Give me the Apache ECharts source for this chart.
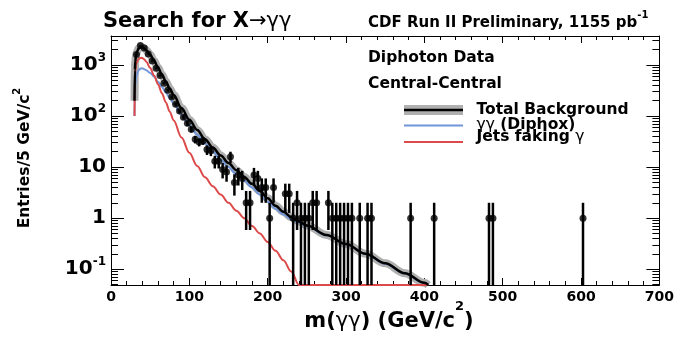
<!DOCTYPE html>
<html>
<head>
<meta charset="utf-8">
<title>Search for X→γγ</title>
<script src="https://cdn.jsdelivr.net/npm/echarts@6.0.0/dist/echarts.min.js"></script>
<style>
  html, body { margin: 0; padding: 0; background: #fff; }
  #chart { width: 677px; height: 338px; }
</style>
</head>
<body>
<div id="chart"></div>
<script>
// Diphoton data, central-central, 5 GeV/c^2 bins: bin centre and entries (empty bins left out)
const massBins = [32.5, 37.5, 42.5, 47.5, 52.5, 57.5, 62.5, 67.5, 72.5, 77.5,
  82.5, 87.5, 92.5, 97.5, 102.5, 107.5, 112.5, 117.5, 122.5, 127.5,
  132.5, 137.5, 142.5, 147.5, 152.5, 157.5, 162.5, 167.5, 172.5, 177.5,
  182.5, 187.5, 192.5, 197.5, 202.5, 207.5, 222.5, 227.5, 232.5, 237.5,
  242.5, 247.5, 252.5, 257.5, 262.5, 277.5, 282.5, 287.5, 292.5, 297.5,
  302.5, 307.5, 317.5, 327.5, 332.5, 382.5, 412.5, 482.5, 487.5, 602.5];
const entries = [1600, 2400, 2150, 1650, 1200, 860, 620, 440, 320, 235,
  170, 125, 95, 72, 55, 35, 31, 33, 22, 21,
  13, 13, 9, 8, 16, 5, 7, 6, 2, 2,
  7, 6, 4, 4, 1, 4, 3, 3, 1, 2,
  1, 1, 1, 2, 2, 2, 1, 1, 1, 1,
  1, 1, 1, 1, 1, 1, 1, 1, 1, 1];

// Background model sampled along m(γγ) [GeV/c^2]
const curveMass = [30, 30.5, 31, 32, 33, 35, 37, 39, 41, 43,
  45, 50, 55, 60, 65, 70, 75, 80, 90, 100,
  110, 120, 130, 140, 150, 160, 170, 180, 190, 200,
  210, 220, 230, 240, 250, 275, 300, 325, 350, 375,
  400, 405];
const totalBkg = [200, 800, 1170, 1550, 1800, 2080, 2210, 2240, 2190, 2080,
  1950, 1580, 1210, 890, 650, 475, 347, 257, 143, 85,
  53.5, 35.3, 24.2, 16.9, 12, 8.7, 6.4, 4.7, 3.4, 2.45,
  1.75, 1.33, 1.05, 0.86, 0.72, 0.47, 0.31, 0.2, 0.13, 0.083,
  0.054, 0.049];
const diphoxBkg = [100, 300, 420, 550, 650, 780, 840, 860, 850, 820,
  790, 700, 590, 470, 370, 290, 225, 175, 105, 66,
  43, 29, 20, 14, 10, 7.3, 5.4, 4.0, 2.9, 2.1,
  1.52, 1.18, 0.96, 0.81, 0.69, 0.46, 0.305, 0.197, 0.128, 0.082,
  0.053, 0.048];
const jetsBkg = [100, 500, 750, 1000, 1150, 1300, 1370, 1380, 1340, 1260,
  1160, 880, 620, 420, 280, 185, 122, 82, 38, 19,
  10.5, 6.3, 4.2, 2.9, 2.0, 1.4, 1.0, 0.7, 0.5, 0.34,
  0.23, 0.15, 0.09, 0.049, 0.03, 0.012, 0.005, 0.002, 0.001, 0.0005,
  0.0002, 0.0002];

// Axis ticks and labels
const xMajorStep = 100, xMinorStep = 20;
const yTickDecades = [-1, 0, 1, 2, 3];
const yTickLabels = ['10^-1', '1', '10', '10^2', '10^3'];

// ---------------------------------------------------------------------
const FONT = 'DejaVu Sans';
const BLACK = '#000';
const GREY = '#b0b0b0';
const BLUE = '#7096da';
const RED = '#dd4a4a';
const toLog = v => Math.log10(v);
const yFloor = 0.049, yCeil = 3700;
const yLo = toLog(yFloor), yHi = toLog(yCeil);
// values under the frame are drawn along its lower edge
const atFloor = v => Math.max(toLog(Math.max(v, 1e-9)), yLo);

const minorLogTicks = [];
for (let d = -2; d <= 3; d++) {
  for (let k = 2; k <= 9; k++) {
    const t = d + Math.log10(k);
    if (t > yLo && t < yHi) minorLogTicks.push(t);
  }
}
const yLabelOf = {};
yTickDecades.forEach((d, i) => { yLabelOf[d] = yTickLabels[i]; });
function richPower(s) {
  const parts = s.split('^');
  return parts[1] ? `{b|${parts[0]}}{s|${parts[1]}}` : `{b|${parts[0]}}`;
}

const noAxis = {
  splitLine: { show: false },
  axisLabel: { show: false },
  axisLine: { show: false, onZero: false },
  axisTick: { show: false }
};
const frameLine = { show: true, onZero: false, lineStyle: { color: BLACK, width: 1 } };
const tick = (len, extra) => Object.assign({ show: true, inside: true, length: len, lineStyle: { color: BLACK, width: 1 } }, extra || {});

const xBase = Object.assign({ type: 'value', min: 0, max: 700 }, noAxis);
const yBase = Object.assign({ type: 'value', min: yLo, max: yHi }, noAxis);

const xAxis = [
  Object.assign({}, xBase, {
    position: 'bottom', interval: xMajorStep,
    axisLine: frameLine, axisTick: tick(7),
    axisLabel: { show: true, fontFamily: FONT, fontWeight: 'bold', fontSize: 14, color: BLACK, margin: 5, showMaxLabel: true, showMinLabel: true }
  }),
  Object.assign({}, xBase, { position: 'bottom', interval: xMinorStep, axisTick: tick(4) }),
  Object.assign({}, xBase, { position: 'top', interval: xMajorStep, axisLine: frameLine, axisTick: tick(7) }),
  Object.assign({}, xBase, { position: 'top', interval: xMinorStep, axisTick: tick(4) })
];

const yAxis = [
  Object.assign({}, yBase, {
    position: 'left', axisLine: frameLine,
    axisTick: tick(13, { customValues: yTickDecades }),
    axisLabel: {
      show: true, customValues: yTickDecades, margin: 5, fontSize: 20,
      formatter: v => richPower(yLabelOf[Math.round(v)]),
      rich: {
        b: { fontFamily: FONT, fontWeight: 'bold', fontSize: 20, color: BLACK, lineHeight: 26 },
        s: { fontFamily: FONT, fontWeight: 'bold', fontSize: 12, color: BLACK, lineHeight: 9, verticalAlign: 'top' }
      }
    }
  }),
  Object.assign({}, yBase, { position: 'left', axisTick: tick(7, { customValues: minorLogTicks }) }),
  Object.assign({}, yBase, { position: 'right', axisLine: frameLine, axisTick: tick(13, { customValues: yTickDecades }) }),
  Object.assign({}, yBase, { position: 'right', axisTick: tick(7, { customValues: minorLogTicks }) })
];

const curve = arr => curveMass.map((m, i) => [m, atFloor(arr[i])]);

const points = massBins.map((m, i) => [m, toLog(entries[i])]);
const errBars = massBins.map((m, i) => {
  const n = entries[i], e = Math.sqrt(n);
  return [m, atFloor(n - e), toLog(n + e)];
});

const lineOpts = { smooth: 0.35, smoothMonotone: 'x', showSymbol: false, symbol: 'none', clip: true, silent: true };

const series = [
  // uncertainty band of the total background
  Object.assign({ type: 'line', name: 'band', data: curve(totalBkg), z: 1,
    lineStyle: { color: GREY, width: 8, cap: 'butt', join: 'round' } }, lineOpts),
  Object.assign({ type: 'line', name: 'γγ (Diphox)', data: curve(diphoxBkg), z: 2, lineStyle: { color: BLUE, width: 2 } }, lineOpts),
  Object.assign({ type: 'line', name: 'Jets faking γ', data: curve(jetsBkg), z: 2, lineStyle: { color: RED, width: 2 } }, lineOpts),
  Object.assign({ type: 'line', name: 'Total Background', data: curve(totalBkg), z: 3, lineStyle: { color: BLACK, width: 2.5 } }, lineOpts),
  {
    type: 'custom', name: 'errors', data: errBars, clip: true, silent: true, z: 4,
    renderItem: (params, api) => {
      const a = api.coord([api.value(0), api.value(1)]);
      const b = api.coord([api.value(0), api.value(2)]);
      return { type: 'line', shape: { x1: a[0], y1: a[1], x2: b[0], y2: b[1] }, style: { stroke: BLACK, lineWidth: 2.5 } };
    }
  },
  { type: 'scatter', name: 'Diphoton Data', data: points, symbol: 'circle', symbolSize: 7, z: 5,
    itemStyle: { color: BLACK }, silent: true, clip: true }
];

// bold Helvetica-like text; greek letters and arrows in a light weight
const textRich = (size, supSize, lineH, supLH) => ({
  m: { fontFamily: FONT, fontWeight: 'bold', fontSize: size, fill: BLACK, lineHeight: lineH },
  g: { fontFamily: FONT, fontWeight: 'normal', fontSize: size, fill: BLACK, lineHeight: lineH },
  s: { fontFamily: FONT, fontWeight: 'bold', fontSize: supSize, fill: BLACK, lineHeight: supLH, verticalAlign: 'top' }
});
const txt = (x, y, text, size, extra) => ({
  type: 'text', x: x, y: y, silent: true, z: 100,
  style: Object.assign({ text: text, fontFamily: FONT, fontWeight: 'bold', fontSize: size, fill: BLACK,
    align: 'left', verticalAlign: 'middle', rich: textRich(size, Math.round(size * 0.65), size + 4, 8) }, extra || {})
});

const graphic = [
  txt(103, 22, '{m|Search for X}{g|→γγ}', 21),
  txt(368, 23.5, '{m|CDF Run II Preliminary, 1155 pb}{s|-1}', 15, { rich: textRich(15, 10, 26, 8) }),
  txt(368, 57.5, '{m|Diphoton Data}', 15.5),
  txt(368, 84, '{m|Central-Central}', 15.5),
  // legend samples
  { type: 'rect', z: 100, shape: { x: 404, y: 105, width: 59, height: 10 }, style: { fill: GREY }, silent: true },
  { type: 'line', z: 101, shape: { x1: 404, y1: 110, x2: 463, y2: 110 }, style: { stroke: BLACK, lineWidth: 2.5 }, silent: true },
  { type: 'line', z: 101, shape: { x1: 404, y1: 125.5, x2: 463, y2: 125.5 }, style: { stroke: BLUE, lineWidth: 2 }, silent: true },
  { type: 'line', z: 101, shape: { x1: 404, y1: 142, x2: 463, y2: 142 }, style: { stroke: RED, lineWidth: 2 }, silent: true },
  txt(476.5, 110, '{m|Total Background}', 15.5),
  txt(476.5, 125, '{g|γγ}{m| (Diphox)}', 15.5),
  txt(476.5, 137, '{m|Jets faking }{g|γ}', 15.5),
  // axis titles
  Object.assign(txt(25, 158, '{m|Entries/5 GeV/c}{s|2}', 15.5,
    { align: 'center', rich: textRich(15.5, 10, 26, 8) }), { rotation: Math.PI / 2 }),
  txt(389, 322, '{m|m(}{g|γγ}{m|) (GeV/c}{s|2}{m|)}', 21, { align: 'center', rich: textRich(21, 13, 43, 10) })
];

const chart = echarts.init(document.getElementById('chart'), null, { renderer: 'canvas' });
chart.setOption({
  animation: false,
  backgroundColor: '#fff',
  grid: { left: 111, right: 9, top: 36, bottom: 53, containLabel: false },
  xAxis: xAxis,
  yAxis: yAxis,
  series: series,
  graphic: graphic
});
</script>
</body>
</html>
